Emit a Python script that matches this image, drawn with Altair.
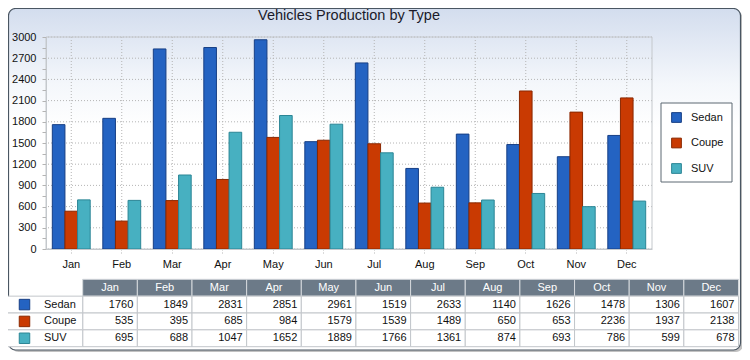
import altair as alt
import pandas as pd

months = ["Jan", "Feb", "Mar", "Apr", "May", "Jun", "Jul", "Aug", "Sep", "Oct", "Nov", "Dec"]
types = ["Sedan", "Coupe", "SUV"]
sedan = [1760, 1849, 2831, 2851, 2961, 1519, 2633, 1140, 1626, 1478, 1306, 1607]
coupe = [535, 395, 685, 984, 1579, 1539, 1489, 650, 653, 2236, 1937, 2138]
suv = [695, 688, 1047, 1652, 1889, 1766, 1361, 874, 693, 786, 599, 678]
y_ticks = [0, 300, 600, 900, 1200, 1500, 1800, 2100, 2400, 2700, 3000]
fills = ["#2463c2", "#c93a02", "#47b0c1"]
strokes = ["#173f85", "#8a2800", "#2b8595"]
title_text = "Vehicles Production by Type"

FONT = "Liberation Sans"

rows = []
for t, vals in zip(types, [sedan, coupe, suv]):
    for m, v in zip(months, vals):
        rows.append({"month": m, "type": t, "value": v})
df = pd.DataFrame(rows)
hdr = pd.DataFrame({"month": months, "row": ["hdr"] * len(months)})
lab = pd.DataFrame({"type": types})
mon = pd.DataFrame({"month": months})
ydf = pd.DataFrame({"value": y_ticks})
one = pd.DataFrame({"k": [0]})

W, H = 606, 212
trows = ["hdr"] + types

# ---------- decoration: shadow, frame with gradient, title ----------
grad = alt.LinearGradient(
    gradient="linear",
    stops=[alt.GradientStop(color="#d3ddee", offset=0),
           alt.GradientStop(color="#f4f7fb", offset=0.22),
           alt.GradientStop(color="#ffffff", offset=0.35),
           alt.GradientStop(color="#ffffff", offset=1)],
    x1=0, x2=0, y1=0, y2=1)

shadow = alt.Chart(one).mark_rect(fill="#a8a8a8", cornerRadius=7, opacity=0.7).encode(
    x=alt.value(-34.5), x2=alt.value(697), y=alt.value(-25.5), y2=alt.value(315))
frame = alt.Chart(one).mark_rect(fill=grad, stroke="#4a5662", strokeWidth=1.2, cornerRadius=7).encode(
    x=alt.value(-37.5), x2=alt.value(694.5), y=alt.value(-28.5), y2=alt.value(313))
title = alt.Chart(one).mark_text(font=FONT, fontSize=14.5, color="#1a1a2a", baseline="middle",
                                 align="center").encode(
    x=alt.value(W / 2), y=alt.value(-21), text=alt.value(title_text))

# ---------- plot: grid, border, bars ----------
xscale = alt.Scale(domain=months, paddingInner=0.25, paddingOuter=0.125)
yscale = alt.Scale(domain=[0, 3000], nice=False)
xaxis = alt.Axis(title=None, labelAngle=0, grid=False, zindex=1,
                 tickColor="#b4b4b4", tickDash=[1, 2], tickSize=4, labelPadding=5,
                 domainColor="#c4c8cc", labelFont=FONT, labelFontSize=11, labelColor="#111111")
yaxis = alt.Axis(title=None, values=list(range(0, 3001, 150)), format="d", grid=False, zindex=1,
                 labelExpr="datum.value % 300 === 0 ? datum.label : ''",
                 tickColor="#b4b4b4", tickSize=4, labelPadding=6,
                 domainColor="#c4c8cc", labelFont=FONT, labelFontSize=11, labelColor="#111111")

grid_y = alt.Chart(ydf).mark_rule(color="#b4b4b4", strokeDash=[1, 2], strokeWidth=1).encode(
    y=alt.Y("value:Q", scale=yscale, axis=yaxis))
grid_x = alt.Chart(mon).mark_rule(color="#b4b4b4", strokeDash=[1, 2], strokeWidth=1).encode(
    x=alt.X("month:N", sort=months, scale=xscale, axis=xaxis))
border = alt.Chart(one).mark_rect(fillOpacity=0, stroke="#c4c8cc", strokeWidth=1).encode(
    x=alt.value(0), x2=alt.value(W), y=alt.value(0), y2=alt.value(H))

bars = alt.Chart(df).mark_bar(strokeWidth=1).encode(
    x=alt.X("month:N", sort=months, scale=xscale, axis=xaxis),
    xOffset=alt.XOffset("type:N", sort=types, scale=alt.Scale(paddingInner=0, paddingOuter=0)),
    y=alt.Y("value:Q", scale=yscale, axis=yaxis),
    fill=alt.Fill("type:N", scale=alt.Scale(domain=types, range=fills), legend=None),
    stroke=alt.Stroke("type:N", scale=alt.Scale(domain=types, range=strokes), legend=None),
)

plot = alt.layer(grid_y, grid_x, border, bars)

# ---------- legend (drawn as marks) ----------
ly = alt.Scale(domain=types, range=[67.75, 144.25], paddingInner=0, paddingOuter=0)
leg_box = alt.Chart(one).mark_rect(fill="white", stroke="#5d6972", strokeWidth=1).encode(
    x=alt.value(615), x2=alt.value(686), y=alt.value(66), y2=alt.value(145))
leg_sym = alt.Chart(lab).mark_point(shape="square", filled=True, size=95, strokeWidth=1, opacity=1).encode(
    x=alt.value(630.5),
    y=alt.Y("type:N", scale=ly, axis=None),
    fill=alt.Fill("type:N", scale=alt.Scale(domain=types, range=fills), legend=None),
    stroke=alt.Stroke("type:N", scale=alt.Scale(domain=types, range=strokes), legend=None))
leg_text = alt.Chart(lab).mark_text(font=FONT, fontSize=11, color="#111111", baseline="middle",
                                    align="left").encode(
    x=alt.value(645),
    y=alt.Y("type:N", scale=ly, axis=None),
    text="type:N")

# ---------- data table ----------
tx = alt.Scale(domain=months, range=[36.7, 692.5], paddingInner=0, paddingOuter=0)
ty = alt.Scale(domain=trows, range=[242.3, 309.7], paddingInner=0, paddingOuter=0)
cw = (692.5 - 36.7) / len(months)

hdr_rect = alt.Chart(hdr).mark_rect(fill="#6c7a88", stroke="#d4d8dc", strokeWidth=1).encode(
    x=alt.X("month:N", sort=months, scale=tx, axis=None),
    y=alt.Y("row:N", scale=ty, axis=None))
hdr_text = alt.Chart(hdr).mark_text(font=FONT, fontSize=11, color="white", baseline="middle").encode(
    x=alt.X("month:N", sort=months, scale=tx, axis=None),
    y=alt.Y("row:N", scale=ty, axis=None),
    text="month:N")
body_rect = alt.Chart(df).mark_rect(fill="white", stroke="#c2c6ca", strokeWidth=1).encode(
    x=alt.X("month:N", sort=months, scale=tx, axis=None),
    y=alt.Y("type:N", scale=ty, axis=None))
body_text = alt.Chart(df).mark_text(font=FONT, fontSize=11, color="#111111", baseline="middle",
                                    align="right", dx=cw / 2 - 4).encode(
    x=alt.X("month:N", sort=months, scale=tx, axis=None),
    y=alt.Y("type:N", scale=ty, axis=None),
    text=alt.Text("value:Q", format="d"))
lab_rect = alt.Chart(lab).mark_rect(fill="white", stroke="#c2c6ca", strokeWidth=1).encode(
    x=alt.value(-39), x2=alt.value(36.7),
    y=alt.Y("type:N", scale=ty, axis=None))
lab_sym = alt.Chart(lab).mark_point(shape="square", filled=True, size=110, strokeWidth=1, opacity=1).encode(
    x=alt.value(-21.5),
    y=alt.Y("type:N", scale=ty, axis=None),
    fill=alt.Fill("type:N", scale=alt.Scale(domain=types, range=fills), legend=None),
    stroke=alt.Stroke("type:N", scale=alt.Scale(domain=types, range=strokes), legend=None))
lab_text = alt.Chart(lab).mark_text(font=FONT, fontSize=11, color="#111111", baseline="middle",
                                    align="left").encode(
    x=alt.value(-2),
    y=alt.Y("type:N", scale=ty, axis=None),
    text="type:N")

chart = alt.layer(
    shadow, frame, title, plot, leg_box, leg_sym, leg_text,
    hdr_rect, hdr_text, body_rect, body_text, lab_rect, lab_sym, lab_text
).resolve_scale(
    x="independent", y="independent", fill="independent", stroke="independent"
).properties(
    width=W, height=H,
    autosize=alt.AutoSizeParams(type="none"),
    padding={"left": 38, "top": 29, "right": 90, "bottom": 103},
    background="white",
).configure_view(stroke=None)

chart.save("out.html", embed_options={"renderer": "svg", "actions": False})
